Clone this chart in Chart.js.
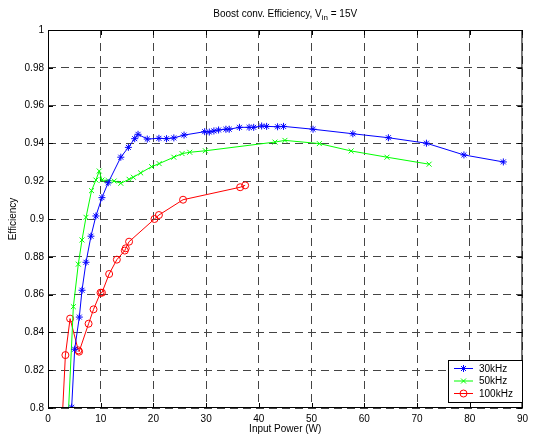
<!DOCTYPE html>
<html>
<head>
<meta charset="utf-8">
<script src="https://cdn.jsdelivr.net/npm/chart.js@4/dist/chart.umd.min.js"></script>
<style>
html,body{margin:0;padding:0;background:#fff;}
#wrap{width:533px;height:439px;}
</style>
</head>
<body>
<div id="wrap"><canvas id="myChart" width="533" height="439"></canvas></div>
<script>
// input power (W) and efficiency
let p30=[4.49,5.06,5.94,6.45,7.21,8.15,9.09,10.23,11.42,13.81,15.25,16.45,17.08,18.83,21.04,22.49,23.87,25.81,29.72,30.6,31.47,32.36,33.74,34.38,36.32,38.15,39.02,40.53,41.47,43.55,44.68,50.28,57.83,64.57,71.79,78.9,86.38]
let eff30=[0.8004,0.8311,0.8481,0.8623,0.8771,0.8909,0.9016,0.9113,0.9192,0.9327,0.9379,0.9425,0.9448,0.9423,0.9427,0.9425,0.9429,0.9444,0.9462,0.946,0.9466,0.9471,0.9475,0.9475,0.9485,0.9485,0.9485,0.9492,0.949,0.9488,0.949,0.9475,0.9451,0.943,0.9401,0.9339,0.9302]

let p50=[3.58,4.81,5.75,6.45,7.21,8.26,9.09,9.72,10.23,11.42,12.55,13.81,15.38,16.19,17.58,19.66,21.09,23.87,25.43,26.89,29.85,43.06,44.94,51.47,57.5,64.3,72.3]
let eff50=[0.78,0.8536,0.8761,0.8889,0.9009,0.915,0.9206,0.9254,0.9206,0.9203,0.9201,0.9189,0.921,0.9221,0.9244,0.9277,0.9293,0.9327,0.9346,0.9353,0.9361,0.9407,0.9416,0.9399,0.936,0.9327,0.929]

let p100=[2.45,3.30,4.19,5.75,5.9,7.70,8.64,9.96,10.23,11.6,13.06,14.57,14.75,15.38,20.2,21.04,25.62,36.45,37.4]
let eff100=[0.78,0.828,0.8473,0.8305,0.8298,0.8446,0.8522,0.861,0.861,0.8709,0.8785,0.8833,0.8845,0.888,0.9,0.9021,0.9102,0.9168,0.9178]

let labels=["30kHz","50kHz","100kHz"]
let colors=["#0000ff","#00ff00","#ff0000"]
let markers=["star","crossRot","circle"]

const FONT="Liberation Sans, Arial, sans-serif"

const pts=function(xs,ys){
    return xs.map((x,i)=>({x:x,y:ys[i]}))
}

const drawMarker=function(ctx,style,x,y,color){
    ctx.save()
    ctx.strokeStyle=color
    ctx.lineWidth=1
    ctx.beginPath()
    if(style=="circle"){
        ctx.arc(x,y,3.5,0,Math.PI*2)
    }else if(style=="star"){
        let r=3.5,d=r*0.707
        ctx.moveTo(x-r,y);ctx.lineTo(x+r,y)
        ctx.moveTo(x,y-r);ctx.lineTo(x,y+r)
        ctx.moveTo(x-d,y-d);ctx.lineTo(x+d,y+d)
        ctx.moveTo(x-d,y+d);ctx.lineTo(x+d,y-d)
    }else{
        let d=2.5
        ctx.moveTo(x-d,y-d);ctx.lineTo(x+d,y+d)
        ctx.moveTo(x-d,y+d);ctx.lineTo(x+d,y-d)
    }
    ctx.stroke()
    ctx.restore()
}

// box, inner ticks, title, axis labels and legend, matlab style
const frame={
    id:'frame',
    afterDraw(chart){
        const ctx=chart.ctx
        const a=chart.chartArea
        const sx=chart.scales.x, sy=chart.scales.y
        ctx.save()
        ctx.strokeStyle="#000"
        ctx.lineWidth=1
        ctx.strokeRect(a.left+0.5,a.top+0.5,a.right-a.left-1,a.bottom-a.top-1)
        ctx.beginPath()
        sx.ticks.forEach(t=>{
            let px=Math.round(sx.getPixelForValue(t.value))+0.5
            ctx.moveTo(px,a.bottom);ctx.lineTo(px,a.bottom-5)
            ctx.moveTo(px,a.top);ctx.lineTo(px,a.top+5)
        })
        sy.ticks.forEach(t=>{
            let py=Math.round(sy.getPixelForValue(t.value))+0.5
            ctx.moveTo(a.left,py);ctx.lineTo(a.left+5,py)
            ctx.moveTo(a.right,py);ctx.lineTo(a.right-5,py)
        })
        ctx.stroke()

        // title with subscript
        ctx.fillStyle="#000"
        ctx.textBaseline="alphabetic"
        ctx.textAlign="left"
        let t1="Boost conv. Efficiency, V",t2="in",t3=" = 15V"
        ctx.font="10px "+FONT
        let w1=ctx.measureText(t1).width,w3=ctx.measureText(t3).width
        ctx.font="8px "+FONT
        let w2=ctx.measureText(t2).width
        let cx=(a.left+a.right)/2
        let x0=cx-(w1+w2+w3)/2
        ctx.font="10px "+FONT
        ctx.fillText(t1,x0,16.5)
        ctx.font="8px "+FONT
        ctx.fillText(t2,x0+w1,19.5)
        ctx.font="10px "+FONT
        ctx.fillText(t3,x0+w1+w2,16.5)

        // axis titles
        ctx.textAlign="center"
        ctx.textBaseline="middle"
        ctx.fillText("Input Power (W)",cx,429.5)
        ctx.save()
        ctx.translate(13,(a.top+a.bottom)/2)
        ctx.rotate(-Math.PI/2)
        ctx.fillText("Efficiency",0,0)
        ctx.restore()

        // legend
        ctx.fillStyle="#fff"
        ctx.fillRect(448.5,360.5,74,42)
        ctx.strokeRect(448.5,360.5,74,42)
        for(let i=0;i<labels.length;i++){
            let y=368.5+i*12.5
            ctx.strokeStyle=colors[i]
            ctx.beginPath()
            ctx.moveTo(454,y);ctx.lineTo(473,y)
            ctx.stroke()
            drawMarker(ctx,markers[i],463.5,y,colors[i])
            ctx.fillStyle="#000"
            ctx.textAlign="left"
            ctx.fillText(labels[i],479,y+0.5)
        }
        ctx.restore()
    }
}

const mkSet=function(i,data){
    return {
        label:labels[i],
        data:data,
        borderColor:colors[i],
        borderWidth:1,
        tension:0,
        pointStyle:markers[i],
        pointRadius:3.5,
        pointHoverRadius:3.5,
        pointBorderColor:colors[i],
        pointBackgroundColor:markers[i]=="circle"?"rgba(0,0,0,0)":colors[i],
        pointBorderWidth:1
    }
}

const ctx=document.getElementById("myChart")
new Chart(ctx,{
    type:"line",
    data:{
        datasets:[
            mkSet(0,pts(p30,eff30)),
            mkSet(1,pts(p50,eff50)),
            mkSet(2,pts(p100,eff100))
        ]
    },
    options:{
        responsive:false,
        animation:false,
        devicePixelRatio:1,
        layout:{padding:{top:30,right:7,bottom:0,left:0}},
        plugins:{legend:{display:false},tooltip:{enabled:false},title:{display:false}},
        scales:{
            x:{
                type:"linear",
                min:0,max:90,
                afterFit:s=>{s.height=31},
                ticks:{stepSize:10,autoSkip:false,maxRotation:0,padding:5,color:"#000",font:{family:FONT,size:10}},
                grid:{color:"#444",lineWidth:1,drawTicks:false},
                border:{display:false,dash:[8,5]}
            },
            y:{
                type:"linear",
                min:0.8,max:1,
                afterFit:s=>{s.width=48},
                ticks:{stepSize:0.02,autoSkip:false,padding:4,color:"#000",font:{family:FONT,size:10},
                    callback:v=>String(+v.toFixed(2))},
                grid:{color:"#444",lineWidth:1,drawTicks:false},
                border:{display:false,dash:[8,5]}
            }
        }
    },
    plugins:[frame]
})
</script>
</body>
</html>
